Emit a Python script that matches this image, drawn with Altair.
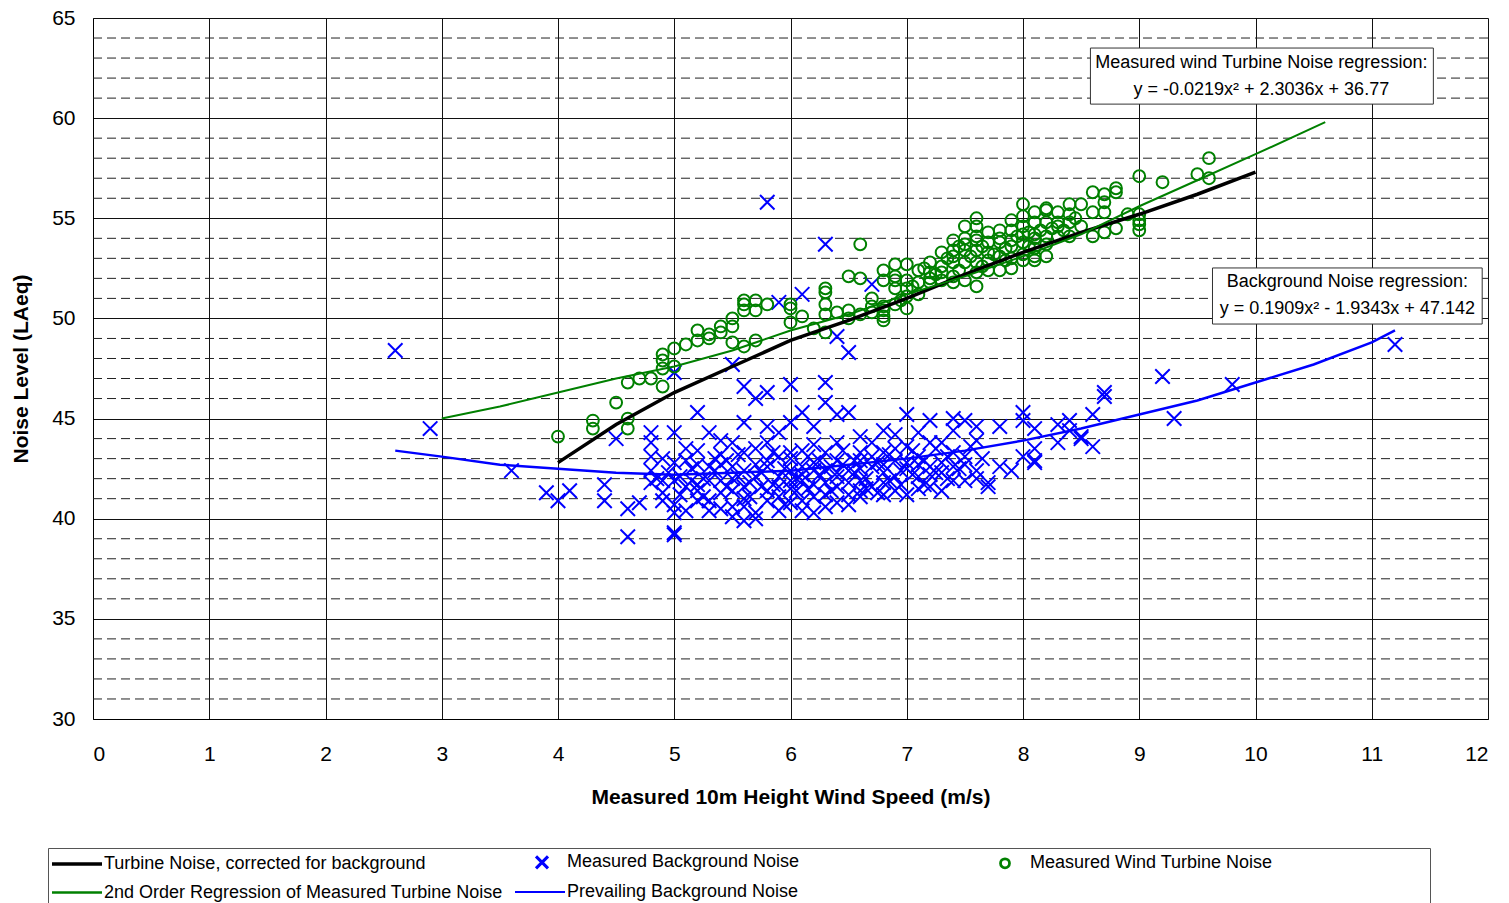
import altair as alt
import pandas as pd

# ---------------- data ----------------
bg_x = [2.6, 2.9, 3.6, 3.9, 4.0, 4.1, 4.4, 4.4, 4.5, 4.6, 4.6, 4.7,
        4.8, 4.8, 4.8, 4.8, 4.8, 4.9, 4.9, 4.9, 5.0, 5.0, 5.0, 5.0, 5.0, 5.0,
        5.1, 5.1, 5.1, 5.2, 5.2, 5.2, 5.3, 5.3, 5.3, 5.4, 5.4, 5.5, 5.5, 5.5, 5.5, 5.5,
        5.6, 5.6, 5.6, 5.6, 5.6, 5.7, 5.7, 5.7, 5.7, 5.8, 5.8, 5.8, 5.8, 5.8, 5.9, 5.9, 5.9, 5.9, 5.9,
        6.0, 6.0, 6.0, 6.0, 6.0, 6.1, 6.1, 6.1, 6.1, 6.1, 6.1, 6.1, 6.2, 6.2, 6.2,
        6.3, 6.3, 6.3, 6.3, 6.3, 6.3, 6.4, 6.4, 6.4, 6.4, 6.5, 6.5, 6.5, 6.5,
        6.6, 6.6, 6.6, 6.7, 6.7, 6.7, 6.7, 6.8, 6.8, 6.8, 6.9, 6.9, 6.9,
        7.0, 7.0, 7.0, 7.1, 7.1, 7.1, 7.2, 7.2, 7.2, 7.3, 7.3, 7.4, 7.4, 7.4, 7.5, 7.5, 7.5, 7.6, 7.6, 7.7, 7.7,
        7.8, 7.9, 8.0, 8.0, 8.0, 8.1, 8.1, 8.3, 8.3, 8.4, 8.4, 8.5, 8.5, 8.6, 8.6, 8.7, 8.7,
        9.2, 9.3, 9.8, 11.2,
        4.95, 5.05, 5.15, 5.25, 5.35, 5.45, 5.55, 5.65, 5.75, 5.85, 5.95, 6.05, 6.15, 6.25, 6.35,
        6.45, 6.55, 6.65, 6.75, 6.85, 6.95, 7.05, 7.15, 7.25, 7.35,
        5.2, 5.4, 5.6, 5.8, 6.0, 6.2, 6.4, 6.6, 6.8, 7.0, 6.2, 6.4, 5.8, 5.4, 6.6, 6.9, 7.2, 7.4, 7.6, 7.3,
        8.1, 8.1, 7.8,
        4.85, 4.9, 5.0, 5.05, 5.1, 5.15, 5.2, 5.25, 5.3, 5.35, 5.4, 5.45, 5.5, 5.55, 5.6, 5.65,
        5.7, 5.75, 5.8, 5.85, 5.9, 5.95, 6.0, 6.05, 6.1, 6.15, 6.2, 6.25, 6.3, 6.35, 6.4, 6.45,
        6.5, 6.55, 6.6, 6.65, 6.7, 6.75, 6.8, 6.85, 6.9, 6.95, 7.0, 7.05, 7.1, 7.15, 7.2, 7.25,
        7.3, 7.35, 7.4, 7.45, 7.5, 7.55, 7.6, 7.65, 5.0, 5.3, 5.5, 5.9, 6.3, 6.5, 5.6, 5.2,
        6.0, 6.4, 6.8, 7.1, 5.4, 5.7, 6.2, 6.6]
bg_y = [48.4, 44.5, 42.4, 41.3, 40.9, 41.4, 41.7, 40.9, 44.0, 39.1, 40.5, 40.8,
        44.3, 43.8, 43.1, 42.4, 41.8, 43.0, 41.9, 40.9, 44.3, 41.9, 40.7, 39.2, 39.3, 47.3,
        43.5, 41.6, 40.4, 45.3, 42.7, 41.4, 44.3, 41.9, 40.9, 43.2, 41.9, 47.7, 43.8, 42.6, 41.4, 40.6,
        46.6, 44.8, 43.3, 41.6, 39.9, 46.0, 42.7, 40.3, 40.0, 55.8, 46.3, 44.6, 42.9, 41.4, 50.8, 44.3, 43.1, 42.1, 41.1,
        46.7, 44.8, 43.3, 41.9, 40.8, 51.2, 45.3, 43.4, 42.6, 41.9, 40.9, 40.4, 44.6, 42.8, 40.3,
        53.7, 46.8, 45.8, 43.3, 42.4, 41.8, 49.1, 45.2, 42.9, 42.1, 48.3, 45.3, 42.4, 41.2,
        44.1, 42.9, 41.9, 51.7, 43.8, 42.6, 41.6, 44.4, 43.3, 42.3, 44.2, 42.9, 41.4,
        45.2, 42.8, 41.2, 44.3, 43.1, 42.1, 44.9, 43.8, 42.6, 43.8, 42.8, 45.0, 44.4, 42.6, 44.9, 43.1, 41.9, 43.9, 42.4, 41.8, 41.6,
        44.6, 42.4, 45.3, 44.9, 43.1, 44.5, 42.8, 44.7, 43.8, 44.9, 44.4, 44.0, 44.1, 43.6, 45.2, 46.3, 46.1,
        47.1, 45.0, 46.7, 48.7,
        42.3, 42.1, 42.5, 42.0, 42.4, 41.6, 42.1, 41.8, 42.3, 41.7, 42.5, 42.0, 41.5, 42.2, 41.4,
        42.7, 42.3, 41.5, 42.8, 41.9, 42.4, 42.2, 41.7, 42.3, 42.0,
        40.9, 40.5, 40.6, 40.9, 42.4, 41.1, 40.8, 41.1, 41.2, 43.6, 43.7, 43.8, 43.8, 43.9, 43.3, 43.5, 41.6, 43.3, 44.6, 41.4,
        43.5, 42.9, 42.6,
        42.0, 41.3, 42.8, 41.2, 42.9, 41.9, 43.4, 41.1, 42.6, 43.0, 41.3, 42.9, 42.0, 43.2, 42.4, 41.1,
        43.5, 41.6, 42.6, 43.3, 41.6, 40.7, 43.0, 41.4, 42.2, 43.1, 41.7, 42.9, 41.2, 42.6, 41.6, 43.4,
        41.8, 42.9, 42.5, 42.0, 43.1, 41.3, 42.7, 43.2, 42.1, 41.7, 42.5, 43.4, 41.5, 42.9, 42.2, 43.5,
        42.3, 43.1, 41.9, 42.5, 42.7, 43.6, 42.0, 43.0, 40.3, 40.4, 40.1, 40.4, 40.6, 40.7, 41.0, 41.7,
        41.5, 42.3, 41.8, 42.7, 42.7, 42.1, 42.4, 41.4]

wt_x = [4.0, 4.3, 4.3, 4.5, 4.6, 4.6, 4.6, 4.7, 4.8, 4.9, 4.9, 4.9, 4.9, 5.0, 5.0, 5.1, 5.2, 5.2,
        5.3, 5.3, 5.4, 5.4, 5.5, 5.5, 5.5, 5.6, 5.6, 5.6, 5.6, 5.7, 5.7, 5.7, 5.8, 6.0, 6.0, 6.0,
        6.1, 6.2, 6.3, 6.3, 6.3, 6.3, 6.3, 6.4, 6.5, 6.5, 6.5, 6.6, 6.6, 6.6, 6.7, 6.7, 6.7,
        6.8, 6.9, 7.0, 6.8, 6.9, 7.0, 6.9, 7.0, 7.0, 6.9, 7.1, 7.1, 7.2, 7.2, 7.2,
        7.3, 7.3, 7.3, 7.4, 7.4, 7.4, 7.4, 7.4, 7.5, 7.5, 7.5, 7.5, 7.5,
        7.6, 7.6, 7.6, 7.6, 7.6, 7.6, 7.6, 7.7, 7.7, 7.7, 7.7, 7.8, 7.8, 7.8, 7.8,
        7.9, 7.9, 7.9, 7.9, 7.9, 8.0, 8.0, 8.0, 8.0, 8.0, 8.1, 8.1, 8.1, 8.1, 8.1,
        8.2, 8.2, 8.2, 8.2, 8.2, 8.3, 8.4, 8.5, 8.6, 8.7, 8.7, 8.7, 8.8, 8.8, 8.6,
        8.3, 8.4, 8.5, 8.4, 8.3, 8.6, 8.7, 8.8, 8.9, 9.0, 9.0, 9.0, 9.0, 9.0,
        9.2, 9.5, 9.6, 9.6, 6.8, 6.8, 6.8, 6.8, 8.0, 8.1,
        7.05, 7.15, 7.25, 7.35, 7.45, 7.55, 7.65, 7.75, 7.85, 7.95, 8.05, 8.15, 8.25, 8.35, 8.45,
        7.2, 7.4, 7.6, 7.8, 8.0, 8.2, 8.4, 7.1, 7.3, 7.5, 7.7, 7.9, 8.1, 8.3, 7.0, 6.9, 6.95,
        7.45, 7.65, 7.85, 8.05]
wt_y = [44.1, 44.9, 44.5, 45.8, 45.0, 44.5, 46.8, 47.0, 47.0, 46.6, 47.5, 47.9, 48.2, 47.6, 48.5, 48.7, 48.9, 49.4,
        49.2, 49.0, 49.6, 49.3, 50.0, 49.6, 48.8, 50.7, 50.9, 50.4, 48.6, 50.9, 48.9, 50.4, 50.7, 50.7, 50.5, 49.8,
        50.1, 49.5, 49.3, 51.5, 51.3, 50.7, 50.2, 50.3, 52.1, 50.0, 50.4, 53.7, 52.0, 50.2, 50.3, 50.6, 51.0,
        52.4, 52.7, 52.7, 51.9, 52.1, 51.9, 51.5, 51.1, 50.5, 50.7, 51.8, 51.2, 52.8, 52.3, 51.8,
        53.3, 52.6, 51.9, 53.9, 53.4, 52.8, 52.1, 51.8, 54.6, 54.0, 53.4, 52.8, 51.9,
        55.0, 54.6, 54.1, 53.4, 52.8, 52.3, 51.6, 54.3, 53.8, 52.9, 52.4, 54.4, 53.8, 53.1, 52.4,
        54.9, 54.4, 53.6, 53.0, 52.5, 55.7, 55.1, 54.6, 53.8, 52.9, 55.3, 54.8, 54.0, 53.5, 52.9,
        55.5, 54.8, 54.1, 53.1, 55.4, 55.3, 55.7, 55.7, 56.3, 56.2, 55.8, 55.3, 56.5, 56.3, 55.3,
        54.8, 54.8, 54.6, 54.1, 54.1, 54.1, 54.3, 54.5, 55.2, 57.1, 55.2, 54.9, 54.7, 54.4,
        56.8, 57.2, 58.0, 57.0, 50.6, 50.1, 49.9, 50.4, 53.2, 53.1,
        51.6, 52.5, 52.2, 53.0, 52.4, 53.1, 53.6, 53.2, 53.5, 54.1, 54.3, 54.4, 54.5, 54.4, 55.0,
        52.0, 53.1, 53.9, 54.0, 54.2, 53.7, 55.2, 52.4, 52.3, 53.7, 53.3, 53.9, 54.2, 54.6, 51.5, 51.9, 50.9,
        53.6, 52.6, 52.9, 53.6]

turb_x = [4.0, 4.5, 5.0, 5.5, 6.0, 6.5, 7.0, 7.5, 8.0, 8.5, 9.0, 9.5, 10.0]
turb_y = [42.8, 44.7, 46.3, 47.6, 48.9, 49.9, 51.0, 52.2, 53.3, 54.3, 55.2, 56.2, 57.3]

reg_x = [3.0, 3.5, 4.0, 4.5, 5.0, 5.5, 6.0, 6.5, 7.0, 7.5, 8.0, 8.5, 9.0, 9.5, 10.0, 10.6]
reg_y = [45.0, 45.6, 46.3, 47.0, 47.6, 48.4, 49.4, 50.2, 51.2, 52.1, 53.1, 54.2, 55.6, 56.9, 58.2, 59.8]

prev_x = [2.6, 3.0, 3.5, 4.0, 4.5, 5.0, 5.5, 6.0, 6.5, 7.0, 7.5, 8.0, 8.5, 9.0, 9.5, 10.0, 10.5, 11.0, 11.2]
prev_y = [43.4, 43.1, 42.7, 42.5, 42.3, 42.2, 42.3, 42.4, 42.7, 43.0, 43.4, 43.9, 44.5, 45.2, 45.9, 46.8, 47.7, 48.8, 49.4]

series = ["Turbine Noise, corrected for background",
          "Measured Background Noise",
          "Measured Wind Turbine Noise",
          "2nd Order Regression of Measured Turbine Noise",
          "Prevailing Background Noise"]
colors = ["#000000", "#0000ff", "#008000", "#008000", "#0000ff"]
widths = [3.5, 2, 1.8, 2, 2.5]

# legend glyphs (unit = 10 px at symbolSize 400); glyph area spans 0..50 px from entry start
LINE_G = "M-1,0L4,0"
X_G = "M1.1,-0.6L2.3,0.6M1.1,0.6L2.3,-0.6"
O_G = "M2.15,0A0.45,0.45,0,1,1,1.25,0A0.45,0.45,0,1,1,2.15,0Z"
legend_shapes = [LINE_G, X_G, O_G, LINE_G, LINE_G]
X_MARK = "M-1,-1L1,1M-1,1L1,-1"

minor_y = [v for v in range(31, 65) if v % 5 != 0]

ann_lines = ["Measured wind Turbine Noise regression:", "y = -0.0219x\u00b2 + 2.3036x + 36.77",
             "Background Noise regression:", "y = 0.1909x\u00b2 - 1.9343x + 47.142"]
ann_x = [10.05, 10.05, 10.79, 10.79]
ann_y = [62.75, 61.4, 51.82, 50.47]
box_x = [8.58, 9.63]
box_x2 = [11.53, 11.95]
box_y = [63.5, 52.52]
box_y2 = [60.7, 49.72]

# ---------------- frames ----------------
bg_df = pd.DataFrame({"x": bg_x, "y": bg_y, "s": series[1]})
wt_df = pd.DataFrame({"x": wt_x, "y": wt_y, "s": series[2]})
turb_df = pd.DataFrame({"x": turb_x, "y": turb_y, "s": series[0]})
reg_df = pd.DataFrame({"x": reg_x, "y": reg_y, "s": series[3]})
prev_df = pd.DataFrame({"x": prev_x, "y": prev_y, "s": series[4]})
legend_df = pd.concat([turb_df, bg_df.head(1), wt_df.head(1), reg_df, prev_df])
minor_df = pd.DataFrame({"y": minor_y})
ann_df = pd.DataFrame({"x": ann_x, "y": ann_y, "t": ann_lines})
box_df = pd.DataFrame({"x": box_x, "x2": box_x2, "y": box_y, "y2": box_y2})

FONT = "Liberation Sans"
xscale = alt.Scale(domain=[0, 12], nice=False)
yscale = alt.Scale(domain=[30, 65], nice=False)

X = alt.X("x:Q", scale=xscale,
          axis=alt.Axis(values=list(range(0, 13)), format="d",
                        title="Measured 10m Height Wind Speed (m/s)",
                        grid=True, gridColor="#111111", gridWidth=1,
                        ticks=False, domainColor="#000000", labelFontSize=21,
                        labelPadding=24, titleFontSize=21, titleFontWeight="bold",
                        titlePadding=22, labelFont=FONT, titleFont=FONT, labelColor="#000",
                        titleColor="#000"))
Y = alt.Y("y:Q", scale=yscale,
          axis=alt.Axis(values=list(range(30, 66, 5)), format="d", title="Noise Level (LAeq)",
                        grid=True, gridColor="#111111", gridWidth=1,
                        ticks=False, domainColor="#000000", labelFontSize=21,
                        labelPadding=18, titleFontSize=21, titleFontWeight="bold",
                        titlePadding=20, labelFont=FONT, titleFont=FONT, labelColor="#000",
                        titleColor="#000"))

# the legend frame in the reference runs to the full width of the third column
PAD = "\u00a0" * 31 + "\u200b"
legend = alt.Legend(title=None, orient="none", legendX=-45, legendY=830, columns=3,
                    direction="horizontal", gridAlign="all", columnPadding=8, rowPadding=6,
                    symbolSize=400, symbolOpacity=1, labelFontSize=18, labelFont=FONT,
                    labelColor="#000", labelOffset=30, padding=2, strokeColor="#555555",
                    labelLimit=800, symbolFillColor="transparent",
                    labelExpr="datum.label == 'Measured Wind Turbine Noise' ? datum.label + '"
                              + PAD + "' : datum.label")

minor = alt.Chart(minor_df).mark_rule(color="#222222", strokeWidth=1, strokeDash=[9, 5]).encode(
    y=alt.Y("y:Q", scale=yscale))

bg_pts = alt.Chart(bg_df).mark_point(shape=X_MARK, size=210, strokeWidth=2, filled=False,
                                     color=colors[1], opacity=1).encode(x=X, y=Y)
wt_pts = alt.Chart(wt_df).mark_point(shape="circle", size=140, strokeWidth=2, filled=False,
                                     color=colors[2], opacity=1).encode(x=X, y=Y)

turb_line = alt.Chart(turb_df).mark_line(color=colors[0], strokeWidth=widths[0]).encode(x=X, y=Y)
reg_line = alt.Chart(reg_df).mark_line(color=colors[3], strokeWidth=widths[3]).encode(x=X, y=Y)
prev_line = alt.Chart(prev_df).mark_line(color=colors[4], strokeWidth=widths[4]).encode(x=X, y=Y)

legend_layer = alt.Chart(legend_df).mark_point(opacity=0, filled=False).encode(
    x=X, y=Y,
    color=alt.Color("s:N", scale=alt.Scale(domain=series, range=colors), legend=legend),
    shape=alt.Shape("s:N", scale=alt.Scale(domain=series, range=legend_shapes), legend=legend),
    strokeWidth=alt.StrokeWidth("s:N", scale=alt.Scale(domain=series, range=widths), legend=legend))

boxes = alt.Chart(box_df).mark_rect(fill="white", stroke="#333333", strokeWidth=1).encode(
    x=alt.X("x:Q", scale=xscale), x2="x2:Q", y=alt.Y("y:Q", scale=yscale), y2="y2:Q")

texts = alt.Chart(ann_df).mark_text(fontSize=18, font=FONT, color="#000", baseline="middle",
                                    align="center").encode(
    x=alt.X("x:Q", scale=xscale), y=alt.Y("y:Q", scale=yscale), text="t:N")

chart = alt.layer(minor, bg_pts, wt_pts, turb_line, reg_line, prev_line, legend_layer,
                  boxes, texts).properties(
    width=1395, height=701,
    padding={"left": 85, "top": 10, "right": 10, "bottom": 190},
    autosize=alt.AutoSizeParams(type="none"),
    background="white",
).configure_view(stroke=None)

chart.save("out.html", embed_options={"renderer": "svg", "actions": False})
